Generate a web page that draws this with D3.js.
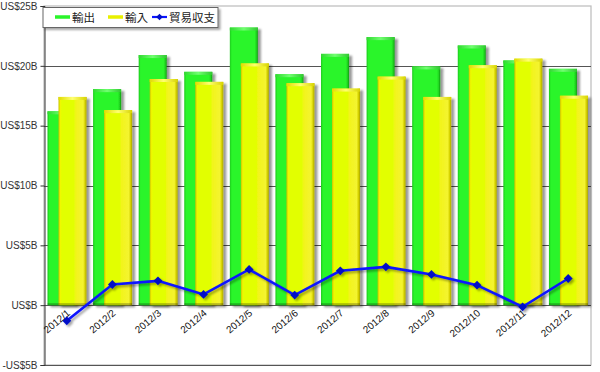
<!DOCTYPE html>
<html><head><meta charset="utf-8">
<script src="https://cdn.jsdelivr.net/npm/d3@7"></script>
<style>body{margin:0;background:#fff}svg{display:block}</style>
</head><body>
<script>
const categories = ["2012/1","2012/2","2012/3","2012/4","2012/5","2012/6","2012/7","2012/8","2012/9","2012/10","2012/11","2012/12"];
const exportsB = [16.2,18.05,20.9,19.5,23.2,19.3,21.0,22.4,19.95,21.7,20.45,19.75];
const importsB = [17.4,16.3,18.9,18.66,20.2,18.55,18.1,19.1,17.4,20.05,20.6,17.5];
const balanceB = [-1.3,1.73,2.03,0.9,2.99,0.84,2.87,3.2,2.57,1.67,-0.14,2.23];
const yTicks = [-5,0,5,10,15,20,25];
const yTickLabels = ["-US$5B","US$B","US$5B","US$10B","US$15B","US$20B","US$25B"];
const seriesNames = ["輸出","輸入","貿易収支"];

(function(){
const W=600,H=372;
const pL=44,pR=591,pT=6,pB=365;
const svg=d3.select("body").append("svg").attr("width",W).attr("height",H);
const defs=svg.append("defs");
const f=defs.append("filter").attr("id","sh").attr("x","-20%").attr("y","-20%").attr("width","150%").attr("height","150%");
f.append("feDropShadow").attr("dx",3).attr("dy",2).attr("stdDeviation",1.3).attr("flood-color","#000").attr("flood-opacity",0.4);
const f2=defs.append("filter").attr("id","sh2").attr("x","-20%").attr("y","-20%").attr("width","150%").attr("height","150%");
f2.append("feDropShadow").attr("dx",2).attr("dy",2).attr("stdDeviation",1).attr("flood-color","#000").attr("flood-opacity",0.35);
function grad(id,stops){const g=defs.append("linearGradient").attr("id",id).attr("x1",0).attr("x2",1).attr("y1",0).attr("y2",0);
 stops.forEach(s=>g.append("stop").attr("offset",s[0]).attr("stop-color",s[1]));}
grad("gG",[[0,"#1cc81c"],[0.07,"#2af52a"],[0.88,"#2af52a"],[0.94,"#20d820"],[1,"#149a14"]]);
grad("gY",[[0,"#c8c400"],[0.07,"#f0f800"],[0.12,"#e2ff00"],[0.55,"#e2ff00"],[0.62,"#f2f41c"],[0.88,"#f4f430"],[0.94,"#d8d400"],[1,"#a8a400"]]);
grad("gGt",[[0,"#30d830"],[0.5,"#70ff70"],[1,"#30c830"]]);
grad("gYt",[[0,"#e0dc00"],[0.5,"#ffff70"],[1,"#d8d400"]]);

const x=d3.scaleBand().domain(categories).range([pL,pR]).padding(0);
const y=d3.scaleLinear().domain([-5,25]).range([pB,pT]);
const bw=x.bandwidth();

svg.append("rect").attr("x",pL).attr("y",pT).attr("width",pR-pL).attr("height",pB-pT)
 .attr("fill","#fff").attr("stroke","#bbb").attr("stroke-width",1.2);
svg.append("g").selectAll("line").data(yTicks.filter(d=>d<25)).join("line")
 .attr("x1",pL).attr("x2",pR).attr("y1",d=>Math.round(y(d))+0.5).attr("y2",d=>Math.round(y(d))+0.5)
 .attr("stroke","#555").attr("stroke-width",1);
const ax=svg.append("g").attr("transform",`translate(${pL+0.5},0)`)
 .call(d3.axisLeft(y).tickValues(yTicks).tickFormat((d,i)=>yTickLabels[i]).tickSize(4).tickPadding(3));
ax.select(".domain").attr("stroke","#333");
ax.selectAll(".tick line").attr("stroke","#333");
ax.selectAll("text").attr("font-family","Liberation Sans, Arial, sans-serif").attr("font-size",10).attr("fill","#333");

function bars(data,off,fillId,topId){
 const g=svg.append("g");
 data.forEach((v,i)=>{
  const bx=x(categories[i])+off*bw, w=0.615*bw, y0=y(Math.max(0,v)), h=Math.abs(y(v)-y(0));
  const gg=g.append("g").attr("filter","url(#sh)");
  gg.append("rect").attr("x",bx).attr("y",y0).attr("width",w).attr("height",h).attr("fill",`url(#${fillId})`);
  gg.append("rect").attr("x",bx).attr("y",y0).attr("width",w).attr("height",3).attr("fill",`url(#${topId})`);
  gg.append("rect").attr("x",bx).attr("y",y0+h-2).attr("width",w).attr("height",2).attr("fill","#000").attr("opacity",0.25);
 });
}
bars(exportsB,0.077,"gG","gGt");
bars(importsB,0.318,"gY","gYt");

const line=d3.line().x((d,i)=>x(categories[i])+bw/2).y(d=>y(d));
const lg=svg.append("g").attr("filter","url(#sh2)");
lg.append("path").datum(balanceB).attr("d",line).attr("fill","none").attr("stroke","#0a14ff").attr("stroke-width",2.6);
lg.selectAll("path.m").data(balanceB).join("path").attr("class","m")
 .attr("d",d3.symbol(d3.symbolDiamond2,50)).attr("transform",(d,i)=>`translate(${x(categories[i])+bw/2},${y(d)})`)
 .attr("fill","#0010c8");

svg.append("g").selectAll("text").data(categories).join("text")
 .attr("transform",d=>`translate(${x(d)+bw/2+4},${y(0)+9}) rotate(-40)`)
 .attr("text-anchor","end").attr("font-family","Liberation Sans, Arial, sans-serif").attr("font-size",10).attr("fill","#111")
 .text(d=>d);

const L=svg.append("g");
L.append("rect").attr("x",43).attr("y",7.5).attr("width",175).attr("height",20).attr("fill","#fff").attr("stroke","#666").attr("filter","url(#sh2)");
const items=[{n:seriesNames[0],c:"#2af52a",x:55},{n:seriesNames[1],c:"#e8f000",x:108},{n:seriesNames[2],c:"#0a14ff",x:152}];
items.forEach((it,i)=>{
 L.append("line").attr("x1",it.x).attr("x2",it.x+15).attr("y1",17).attr("y2",17).attr("stroke",it.c).attr("stroke-width",i==2?2.2:3.5);
 if(i==2) L.append("path").attr("d",d3.symbol(d3.symbolDiamond2,28)).attr("transform",`translate(${it.x+7.5},17)`).attr("fill","#0010c8");
 L.append("text").attr("x",it.x+17).attr("y",21.5).attr("font-family","Noto Sans CJK JP, sans-serif").attr("font-size",11.5).attr("fill","#222").text(it.n);
});
})();
</script>
</body></html>
